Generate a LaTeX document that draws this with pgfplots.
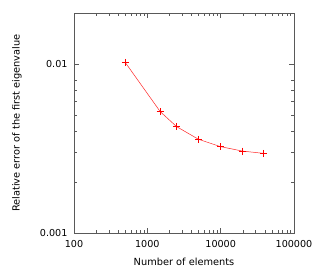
\documentclass[border=0pt]{standalone}
\usepackage{fontspec}
\setmainfont{DejaVu Sans}
\usepackage{pgfplots}
\pgfplotsset{compat=1.18}
\begin{document}
\begin{tikzpicture}
\begin{axis}[
  scale only axis,
  width=220pt, height=220pt,
  xmode=log, ymode=log,
  xmin=100, xmax=100000,
  ymin=0.001, ymax=0.02,
  xtick={100,1000,10000,100000},
  xticklabels={100,1000,10000,100000},
  ytick={0.001,0.01},
  yticklabels={0.001,0.01},
  minor ytick={0.002,0.003,0.004,0.005,0.006,0.007,0.008},
  major tick length=5pt, minor tick length=3pt,
  axis line style={black!65},
  every tick/.style={black!65},
  tick label style={font=\fontsize{9.6}{11}\selectfont},
  xticklabel style={yshift=-4pt},
  yticklabel style={xshift=-3pt},
  label style={font=\fontsize{9.8}{12}\selectfont},
  /pgf/number format/assume math mode=true,
  xlabel={Number of elements},
  ylabel={Relative error of the first eigenvalue},
  xlabel style={at={(axis description cs:0.5,-0.132)}, anchor=center},
  ylabel style={at={(axis description cs:-0.259,0.5)}, anchor=center},
  clip=false,
]
\addplot[red!85!white, line width=0.5pt, mark=+, mark size=3.5pt, mark options={solid, red, line width=0.5pt}] coordinates {
  (500,0.0102) (1500,0.00522) (2500,0.00426) (5000,0.00358)
  (10000,0.00324) (20000,0.00305) (38000,0.00296)
};
\end{axis}
\path[use as bounding box] (-74pt,-37pt) rectangle (253pt,233pt);
\end{tikzpicture}
\end{document}
